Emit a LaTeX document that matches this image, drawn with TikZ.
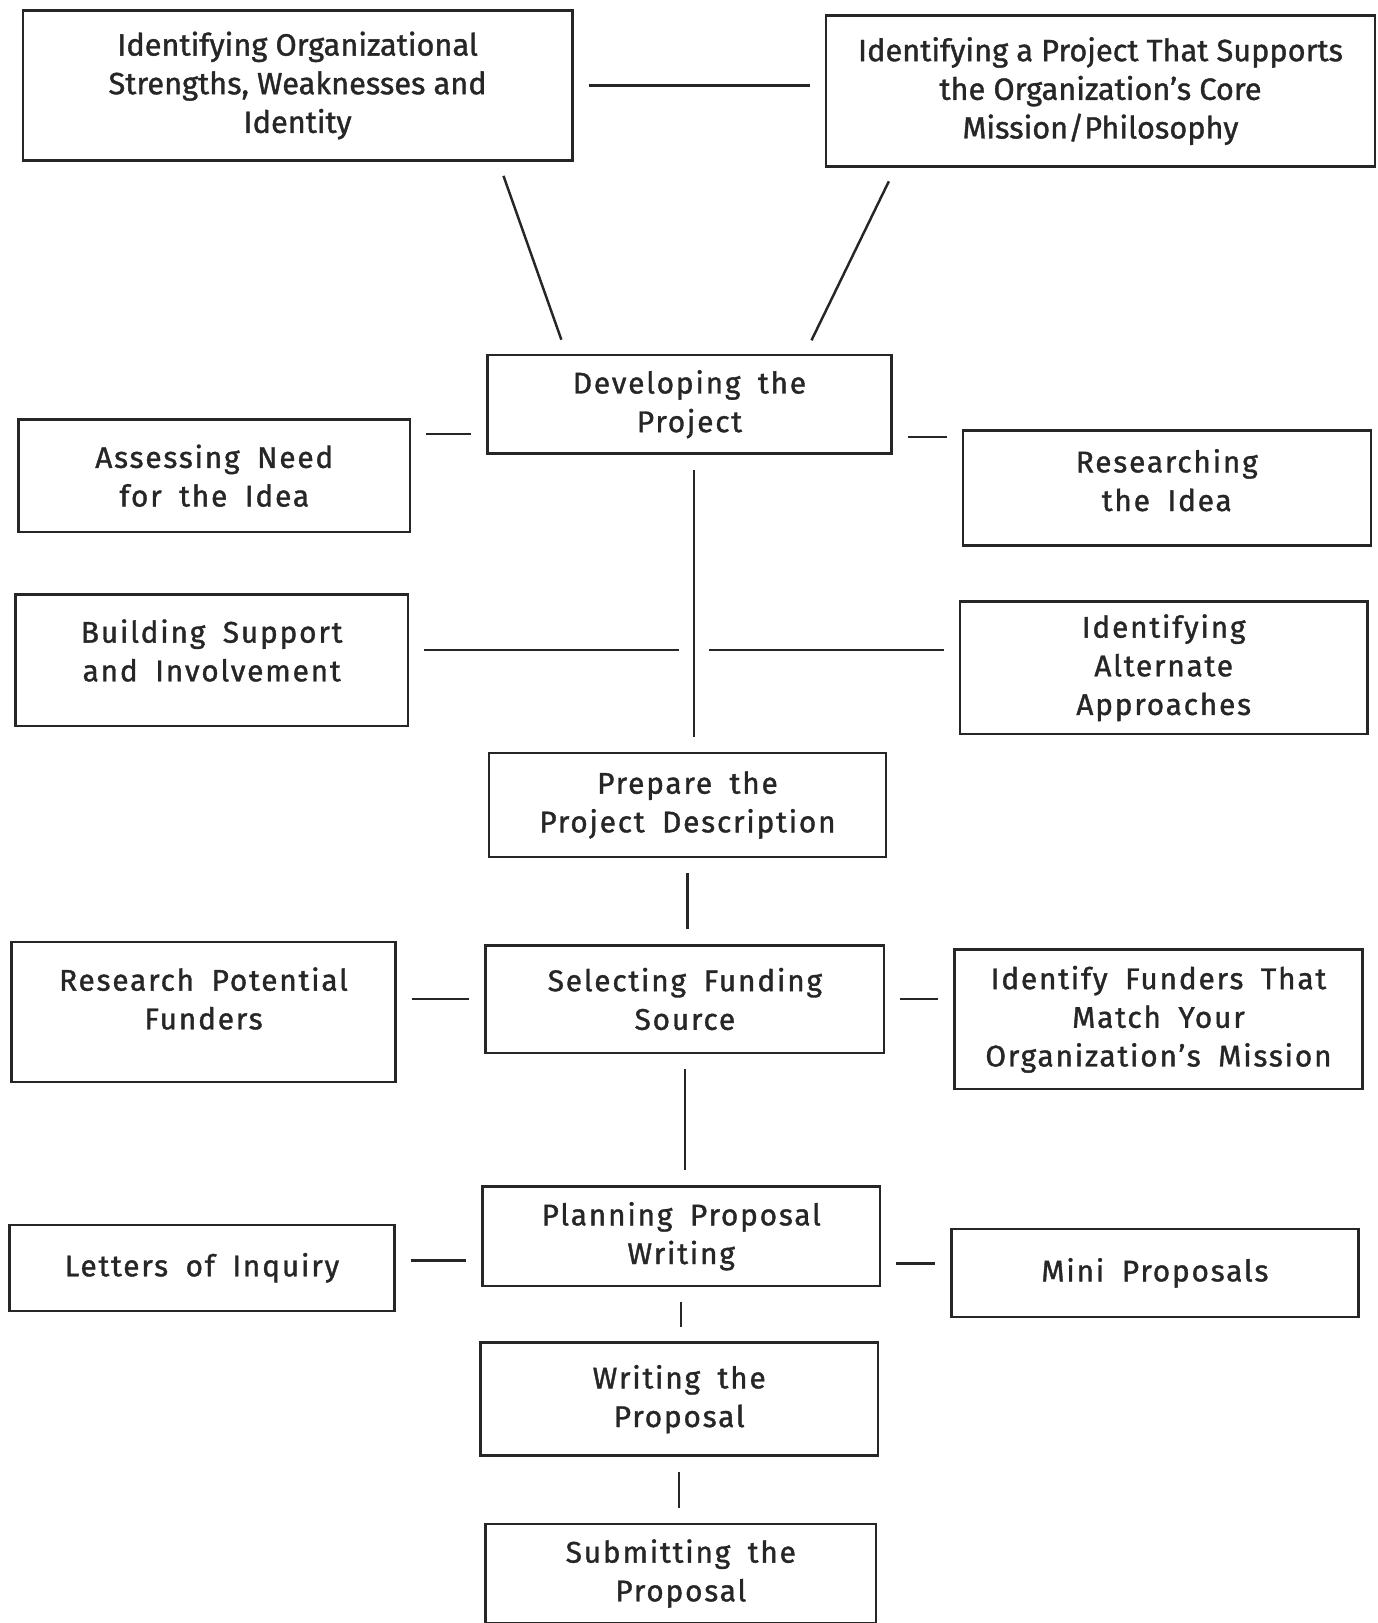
\documentclass[tikz,border=0pt]{standalone}
\usepackage{fontspec}
\setmainfont{Fira Sans}[FakeBold=1.2]
\newfontfamily\boxfont[LetterSpace=6,WordSpace=1.8,FakeBold=1.2]{Fira Sans}
\usetikzlibrary{calc}

\begin{document}
\begin{tikzpicture}[x=.02cm, y=-.02cm,
  txt/.style={align=center, text=black!85, font=\boxfont\fontsize{17}{22}\selectfont},
  box/.style={txt, draw=black!85, line width=1.4pt, inner sep=0pt},
  topbox/.style={box, font=\fontsize{17.5}{22}\selectfont},
  link/.style={draw=black!85, line width=1.4pt, shorten >=.3cm, shorten <=.3cm}]
\useasboundingbox (0,0) rectangle (1378,1623);

\node[topbox, minimum width=10.99cm, minimum height=3cm] (org) at (297.6,85.5) {Identifying Organizational\\Strengths, Weaknesses and\\Identity};
\node[topbox, minimum width=10.98cm, minimum height=3.02cm] (core) at (1100.5,91.1) {Identifying a Project That Supports\\the Organization’s Core\\Mission/Philosophy};
\node[box, minimum width=8.08cm, minimum height=1.97cm] (dev) at (689.5,404.3) {Developing the\\Project};
\node[box, minimum width=7.83cm, minimum height=2.25cm] (assess) at (214.3,475.7) {Assessing Need\\for the Idea};
\node[box, minimum width=8.16cm, minimum height=2.3cm, label={[txt, yshift=.16cm]center:{Researching\\the Idea}}] (research) at (1166.8,488.2) {};
\node[box, minimum width=7.85cm, minimum height=2.63cm, label={[txt, yshift=.19cm]center:{Building Support\\and Involvement}}] (build) at (211.7,660) {};
\node[box, minimum width=8.16cm, minimum height=2.65cm] (alt) at (1163.7,667.8) {Identifying\\Alternate\\Approaches};
\node[box, minimum width=7.95cm, minimum height=2.09cm] (prep) at (687.5,805) {Prepare the\\Project Description};
\node[box, minimum width=7.68cm, minimum height=2.8cm, label={[txt, yshift=.27cm]center:{Research Potential\\Funders}}] (potential) at (203.5,1012) {};
\node[box, minimum width=7.97cm, minimum height=2.15cm] (select) at (684.9,999) {Selecting Funding\\Source};
\node[box, minimum width=8.16cm, minimum height=2.79cm] (match) at (1158.5,1019.3) {Identify Funders That\\Match Your\\Organization’s Mission};
\node[box, minimum width=7.95cm, minimum height=1.99cm] (plan) at (681.2,1236.2) {Planning Proposal\\Writing};
\node[box, minimum width=7.7cm, minimum height=1.72cm] (letters) at (201.9,1267.8) {Letters of Inquiry};
\node[box, minimum width=8.14cm, minimum height=1.76cm] (mini) at (1154.9,1272.9) {Mini Proposals};
\node[box, minimum width=7.95cm, minimum height=2.26cm] (write) at (679.2,1399.2) {Writing the\\Proposal};
\node[box, minimum width=7.81cm, minimum height=1.98cm] (submit) at (680.8,1573.5) {Submitting the\\Proposal};

\draw[link] (org.east) -- (org.east -| core.west);
\draw[link] ($(org.south west)!.864!(org.south east)$) -- ($(dev.north west)!.197!(dev.north east)$);
\draw[link] ($(core.south west)!.128!(core.south east)$) -- ($(dev.north west)!.784!(dev.north east)$);
\draw[link] ($(dev.south west)+(0,-20.7)$) -- ($(dev.south west -| assess.east)+(0,-20.7)$);
\draw[link] ($(dev.south east)+(0,-17.6)$) -- ($(dev.south east -| research.west)+(0,-17.6)$);

\coordinate (hub) at (694,650);
\draw[link] (dev.south -| hub) -- (prep.north -| hub);
\draw[link] (build.east |- hub) -- (hub);
\draw[link] (hub) -- (alt.west |- hub);

\draw[link] (prep.south) -- (prep.south |- select.north);
\draw[link] (select.west -| potential.east) -- (select.west);
\draw[link] (select.east) -- (select.east -| match.west);
\draw[link] (select.south) -- (select.south |- plan.north);
\draw[link] ($(plan.south west -| letters.east)+(0,-26.8)$) -- ($(plan.south west)+(0,-26.8)$);
\draw[link] ($(plan.south east)+(0,-23.8)$) -- ($(plan.south east -| mini.west)+(0,-23.8)$);
\draw[link] (plan.south) -- (plan.south |- write.north);
\draw[link] (write.south) -- (write.south |- submit.north);

\end{tikzpicture}
\end{document}
